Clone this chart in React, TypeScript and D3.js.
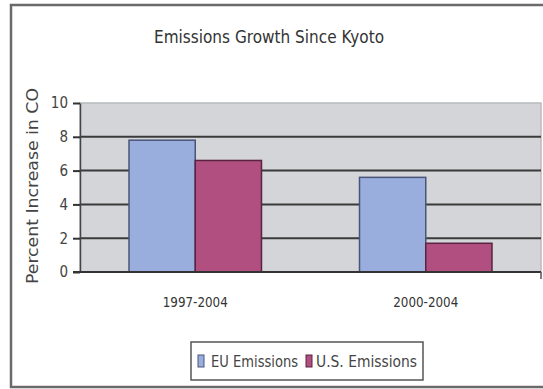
import React, { useEffect, useRef } from "react"
import * as d3 from "d3"

const categories = ["1997-2004", "2000-2004"]
const seriesNames = ["EU Emissions", "U.S. Emissions"]
const euValues = [7.8, 5.6]
const usValues = [6.6, 1.7]
const yTicks = [0, 2, 4, 6, 8, 10]
const colors = ["#9aaedd", "#b04f80"]

const FONT = "'Liberation Sans Narrow', 'DejaVu Sans Condensed', 'Arial Narrow', sans-serif"

export default function App() {
  const ref = useRef<SVGSVGElement>(null)

  useEffect(() => {
    if (!ref.current) return
    const svg = d3.select(ref.current)
    svg.selectAll("*").remove()

    const width = 543
    const height = 389
    const plot = { left: 80, right: 541, top: 103, bottom: 272 }

    // outer frame
    svg
      .append("rect")
      .attr("x", 11)
      .attr("y", 5)
      .attr("width", width + 10)
      .attr("height", 382)
      .attr("fill", "#fff")
      .attr("stroke", "#6a6a6a")
      .attr("stroke-width", 2.5)

    svg
      .append("text")
      .attr("x", 269)
      .attr("y", 43)
      .attr("text-anchor", "middle")
      .attr("font-family", FONT)
      .attr("font-size", 18)
      .attr("fill", "#333")
      .attr("textLength", 230)
      .attr("lengthAdjust", "spacingAndGlyphs")
      .text("Emissions Growth Since Kyoto")

    const x = d3.scaleBand().domain(categories).range([plot.left, plot.right]).padding(0)
    const xSub = d3
      .scaleBand()
      .domain(seriesNames)
      .range([0, x.bandwidth()])
      .paddingInner(0)
      .paddingOuter(0.74)
    const y = d3.scaleLinear().domain([0, 10]).range([plot.bottom, plot.top])

    // plot background
    svg
      .append("rect")
      .attr("x", plot.left)
      .attr("y", plot.top)
      .attr("width", plot.right - plot.left)
      .attr("height", plot.bottom - plot.top)
      .attr("fill", "#d3d5d9")
      .attr("stroke", "#b8babd")
      .attr("stroke-width", 1.5)

    // gridlines
    svg
      .append("g")
      .selectAll("line")
      .data(yTicks.filter((t) => t > 0 && t < 10))
      .join("line")
      .attr("x1", plot.left)
      .attr("x2", plot.right)
      .attr("y1", (d) => y(d))
      .attr("y2", (d) => y(d))
      .attr("stroke", "#3a3a3a")
      .attr("stroke-width", 2)

    // y axis
    const yAxis = svg
      .append("g")
      .attr("transform", `translate(${plot.left},0)`)
      .call(d3.axisLeft(y).tickValues(yTicks).tickSize(7).tickSizeOuter(0).tickPadding(5))
    yAxis.select(".domain").attr("stroke", "#444").attr("stroke-width", 1.5)
    yAxis.selectAll(".tick line").attr("stroke", "#333").attr("stroke-width", 2)
    yAxis
      .selectAll(".tick text")
      .attr("font-family", FONT)
      .attr("font-size", 15)
      .attr("fill", "#444")

    // bars
    const data = categories.flatMap((c, i) => [
      { cat: c, series: seriesNames[0], value: euValues[i] },
      { cat: c, series: seriesNames[1], value: usValues[i] },
    ])
    svg
      .append("g")
      .selectAll("rect")
      .data(data)
      .join("rect")
      .attr("x", (d) => x(d.cat)! + xSub(d.series)!)
      .attr("y", (d) => y(d.value))
      .attr("width", xSub.bandwidth())
      .attr("height", (d) => y(0) - y(d.value))
      .attr("fill", (d) => (d.series === seriesNames[0] ? colors[0] : colors[1]))
      .attr("stroke", (d) => (d.series === seriesNames[0] ? "#4a5478" : "#5a2440"))
      .attr("stroke-width", 1.5)

    // x axis baseline
    svg
      .append("line")
      .attr("x1", plot.left - 7)
      .attr("x2", plot.right)
      .attr("y1", plot.bottom)
      .attr("y2", plot.bottom)
      .attr("stroke", "#333")
      .attr("stroke-width", 2)
    svg
      .append("line")
      .attr("x1", plot.right)
      .attr("x2", plot.right)
      .attr("y1", plot.bottom)
      .attr("y2", plot.bottom + 7)
      .attr("stroke", "#555")
      .attr("stroke-width", 1.5)

    // category labels
    svg
      .append("g")
      .selectAll("text")
      .data(categories)
      .join("text")
      .attr("x", (d) => x(d)! + x.bandwidth() / 2)
      .attr("y", 307)
      .attr("text-anchor", "middle")
      .attr("font-family", FONT)
      .attr("font-size", 14)
      .attr("fill", "#333")
      .attr("textLength", 65)
      .attr("lengthAdjust", "spacingAndGlyphs")
      .text((d) => d)

    // y label
    svg
      .append("text")
      .attr("transform", "translate(38,186) rotate(-90)")
      .attr("text-anchor", "middle")
      .attr("font-family", FONT)
      .attr("font-size", 15)
      .attr("fill", "#444")
      .attr("textLength", 196)
      .attr("lengthAdjust", "spacingAndGlyphs")
      .text("Percent Increase in CO")

    // legend
    const legend = svg.append("g")
    legend
      .append("rect")
      .attr("x", 191)
      .attr("y", 342)
      .attr("width", 232)
      .attr("height", 38)
      .attr("fill", "#fff")
      .attr("stroke", "#555")
      .attr("stroke-width", 1.5)
    const legendItems = [
      { name: seriesNames[0], sx: 198, tx: 211, tw: 87 },
      { name: seriesNames[1], sx: 306, tx: 316, tw: 101 },
    ]
    legendItems.forEach((it, i) => {
      legend
        .append("rect")
        .attr("x", it.sx)
        .attr("y", 355)
        .attr("width", 6)
        .attr("height", 12)
        .attr("fill", colors[i])
        .attr("stroke", i === 0 ? "#4a5478" : "#5a2440")
        .attr("stroke-width", 1)
      legend
        .append("text")
        .attr("x", it.tx)
        .attr("y", 367)
        .attr("font-family", FONT)
        .attr("font-size", 15)
        .attr("fill", "#444")
        .attr("textLength", it.tw)
        .attr("lengthAdjust", "spacingAndGlyphs")
        .text(it.name)
    })
  }, [])

  return (
    <svg
      ref={ref}
      width={543}
      height={389}
      style={{ position: "absolute", left: 0, top: 0, background: "#fff" }}
    />
  )
}
